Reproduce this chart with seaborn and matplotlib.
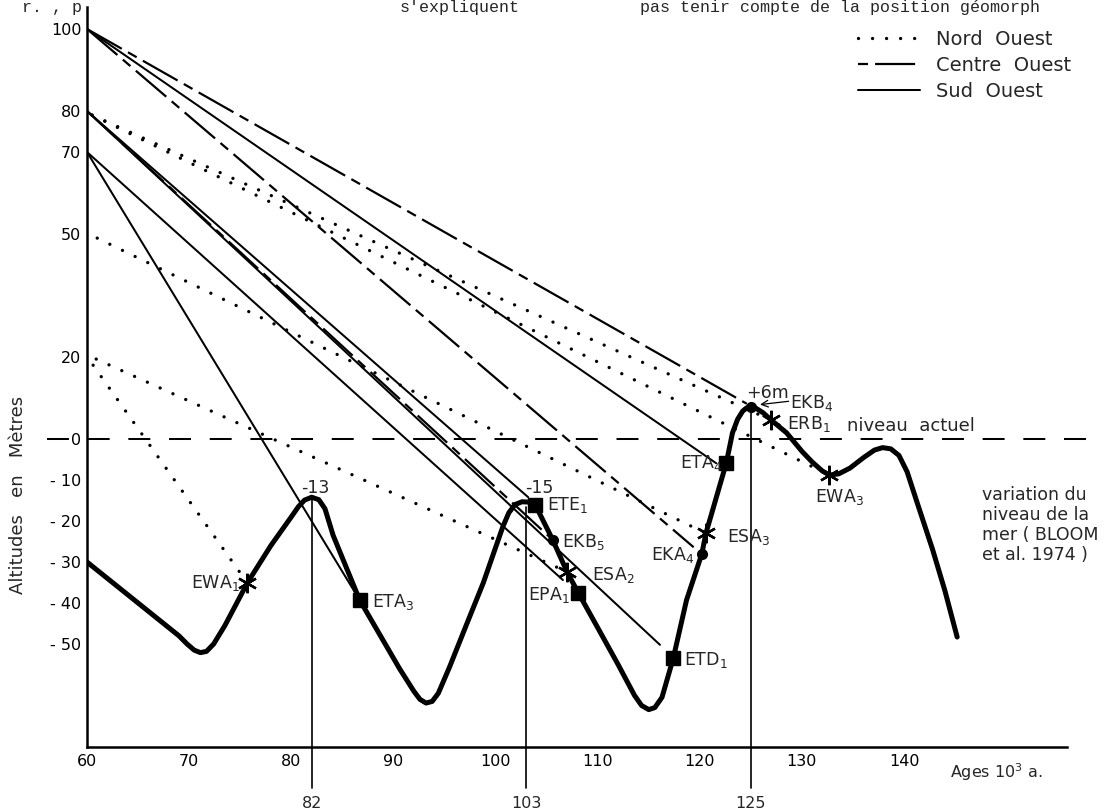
import matplotlib
matplotlib.use("Agg")
import matplotlib.pyplot as plt
from matplotlib.lines import Line2D
import seaborn as sns
import pandas as pd

# sea level curve (BLOOM et al. 1974): age in 10^3 a, altitude in m
curve_age = [60, 65, 69, 69.8, 70.5, 71.1, 71.7, 72.4, 73.5, 75.7, 78, 80, 80.7, 81.3,
             82.0, 82.7, 83.3, 84.1, 86.7, 88.5, 90.6, 92.0, 92.6, 93.2, 93.8, 94.4,
             95.5, 97.2, 98.8, 100.7, 101.3, 101.9, 102.6, 103.3, 103.9, 105.6, 107.0,
             108.1, 110, 112, 113.6, 114.3, 115.0, 115.6, 116.3, 117.4, 118.7, 120.2,
             120.6, 122.6, 123.2, 123.7, 124.2, 124.6, 125.0, 125.5, 126.2, 127.0,
             128.5, 130.0, 131.0, 132.0, 132.7, 133.6, 134.7, 136.0, 137.1, 137.9,
             138.7, 139.5, 140.3, 141.2, 142.8, 144.0, 145.2]
curve_alt = [-30, -40, -48, -50, -51.5, -52.1, -51.8, -50, -45.5, -35.1, -26, -19, -16.5, -14.9,
             -14.2, -14.8, -17.0, -23.5, -39.3, -47, -56, -61.5, -63.5, -64.4, -64.0, -62,
             -55.6, -45, -35.1, -21.5, -18.0, -16.0, -15.3, -15.4, -16.1, -24.6, -32.4,
             -37.5, -46, -55, -62.5, -65.0, -66.0, -65.5, -63.0, -53.5, -39.3, -28,
             -23, -5.8, 1.5, 4.8, 6.8, 7.6, 7.8, 7.5, 6.4, 4.6,
             1.5, -3.0, -5.6, -7.8, -8.8, -8.5, -7.1, -4.6, -2.7, -2.1,
             -2.4, -4.0, -8.0, -14.9, -27, -37, -48.3]

# sampled terraces on the curve
marker_names = ["EWA$_1$", "ETA$_3$", "ETE$_1$", "EKB$_5$", "ESA$_2$", "EPA$_1$", "ETD$_1$",
                "EKA$_4$", "ESA$_3$", "ETA$_4$", "EKB$_4$", "ERB$_1$", "EWA$_3$"]
marker_age = [75.7, 86.7, 103.9, 105.6, 107.0, 108.1, 117.4, 120.2, 120.6, 122.6, 125.0, 127.0, 132.7]
marker_alt = [-35.1, -39.3, -16.1, -24.6, -32.4, -37.5, -53.5, -28.0, -23.0, -5.8, 7.8, 4.6, -8.8]
marker_kind = ["star", "square", "square", "dot", "star", "square", "square",
               "dot", "star", "square", "dot", "star", "star"]

# label placement for each terrace (age, altitude, alignment)
label_age = [75.0, 87.9, 105.0, 106.5, 109.4, 107.3, 118.5, 119.5, 122.7, 122.2, 128.8, 128.5, 133.7]
label_alt = [-35.1, -39.8, -16.1, -25.1, -33.2, -38.0, -53.9, -28.3, -23.9, -5.9, 8.8, 3.7, -14.1]
label_ha = ["right", "left", "left", "left", "left", "right", "left",
            "right", "left", "right", "left", "left", "center"]

# uplift lines: from present altitude (60 ka axis) to terrace
line_start_age = [60, 60, 60, 60, 60, 60, 60, 60, 60.5, 60.5, 61.0, 60.6, 60.9]
line_start_alt = [100, 100, 80, 100, 80, 80, 70, 70, 79, 79, 49, 18.0, 19.5]
line_end_age = [124.6, 119.4, 105.6, 121.6, 103.2, 116.1, 86.7, 106.6, 127.0, 132.7, 120.6, 75.7, 107.0]
line_end_alt = [8.6, -26.4, -24.6, -5.9, -14.2, -50.2, -39.3, -34.4, 4.6, -8.8, -23.0, -35.1, -32.4]
line_region = ["Centre Ouest", "Centre Ouest", "Centre Ouest",
               "Sud Ouest", "Sud Ouest", "Sud Ouest", "Sud Ouest", "Sud Ouest",
               "Nord Ouest", "Nord Ouest", "Nord Ouest", "Nord Ouest", "Nord Ouest"]

region_names = ["Nord  Ouest", "Centre  Ouest", "Sud  Ouest"]
alt_ticks = [100, 80, 70, 50, 20, 0, -10, -20, -30, -40, -50]
age_ticks = [60, 70, 80, 90, 100, 110, 120, 130, 140]
key_ages = [82, 103, 125]
key_top_alt = [-14.5, -16.5, 7.0]
peak_labels = ["-13", "-15", "+6m"]
peak_label_age = [82.4, 104.3, 124.5]
peak_label_alt = [-12.0, -12.0, 11.2]

sns.set_theme(style="white")
plt.rcParams["font.family"] = ["DejaVu Sans"]
plt.rcParams["mathtext.fontset"] = "dejavusans"

styles = {
    "Nord Ouest": dict(linestyle=(0, (0.01, 4.2)), linewidth=2.4, dash_capstyle="round"),
    "Centre Ouest": dict(linestyle=(0, (18, 3.2, 4.5, 3.2)), linewidth=1.6),
    "Sud Ouest": dict(linestyle="-", linewidth=1.45),
}

fig = plt.figure(figsize=(11.16, 8.10), dpi=100)
ax = fig.add_axes([87 / 1116, 1 - 747 / 810, (1093 - 87) / 1116, (747 - 7) / 810])
ax.set_xlim(60, 158.5)
ax.set_ylim(-75.12, 105.37)

# present sea level
ax.plot([56.1, 158.2], [0, 0], color="black", lw=1.45, ls=(0, (10.9, 9.3)), clip_on=False)

for x0, y0, x1, y1, reg in zip(line_start_age, line_start_alt, line_end_age, line_end_alt, line_region):
    ax.plot([x0, x1], [y0, y1], color="black", **styles[reg])

for xa, ya in zip(key_ages, key_top_alt):
    ax.plot([xa, xa], [ya, -85.1], color="black", lw=1.2, clip_on=False)
    ax.text(xa, -88.8, str(xa), ha="center", va="center", fontsize=11.5, clip_on=False)

curve = pd.DataFrame({"age": curve_age, "alt": curve_alt})
sns.lineplot(data=curve, x="age", y="alt", sort=False, estimator=None, color="black",
             lw=3.6, ax=ax, solid_joinstyle="round", solid_capstyle="round")

kind_style = {"star": dict(marker=(6, 2, 0), ms=14, mew=1.7),
              "square": dict(marker="s", ms=10),
              "dot": dict(marker="o", ms=7)}
for kind, st in kind_style.items():
    xs = [a for a, k in zip(marker_age, marker_kind) if k == kind]
    ys = [b for b, k in zip(marker_alt, marker_kind) if k == kind]
    ax.plot(xs, ys, ls="none", color="black", mfc="black", mec="black", zorder=5, **st)

for name, xa, ya, ha in zip(marker_names, label_age, label_alt, label_ha):
    ax.text(xa, ya, name, ha=ha, va="center", fontsize=12.5, zorder=6)
for lab, xa, ya in zip(peak_labels, peak_label_age, peak_label_alt):
    ax.text(xa, ya, lab, ha="center" if lab != "+6m" else "left", va="center", fontsize=12.5)
ax.annotate("", xy=(125.9, 8.4), xytext=(128.7, 9.2),
            arrowprops=dict(arrowstyle="->", lw=0.9, color="black", shrinkA=0, shrinkB=0))

ax.text(134.4, 3.2, "niveau  actuel", ha="left", va="center", fontsize=13)
ax.text(147.6, -11.5, "variation du\nniveau de la\nmer ( BLOOM\net al. 1974 )",
        ha="left", va="top", fontsize=12.5, linespacing=1.15)
ax.text(144.5, -81.3, "Ages 10$^3$ a.", ha="left", va="center", fontsize=11.5, clip_on=False)

ax.set_yticks(alt_ticks)
ax.set_yticklabels([str(v) if v >= 0 else "- " + str(-v) for v in alt_ticks])
ax.set_xticks(age_ticks)
ax.set_xticklabels([str(v) for v in age_ticks])
ax.tick_params(axis="y", direction="in", length=14.4, width=1.6, pad=4, labelsize=11.5, colors="black")
ax.tick_params(axis="x", direction="in", length=14.4, width=1.4, pad=5, labelsize=11.5, colors="black")
for side in ["top", "right"]:
    ax.spines[side].set_visible(False)
for side in ["left", "bottom"]:
    ax.spines[side].set_color("black")
    ax.spines[side].set_linewidth(1.8)
ax.spines["bottom"].set_bounds(60, 156)
ax.set_xlabel("")
ax.set_ylabel("")

fig.text(18 / 1116, 1 - 495 / 810, "Altitudes   en   Mètres", rotation=90,
         ha="center", va="center", fontsize=13)

handles = [Line2D([], [], color="black", **styles["Nord Ouest"]),
           Line2D([], [], color="black", linestyle=(21.2, (18, 3.2, 4.5, 3.2)), linewidth=1.6),
           Line2D([], [], color="black", **styles["Sud Ouest"])]
fig.legend(handles, region_names, loc="upper left",
           bbox_to_anchor=(858 / 1116, 1 - 30 / 810), frameon=False, fontsize=14,
           handlelength=3.2, handletextpad=0.8, labelspacing=0.35, borderpad=0, borderaxespad=0)

# page text cut by the scan, kept just inside the top edge
fig.text(640 / 1116, 1 - 12 / 810, "pas tenir compte de la position géomorph",
         family="Liberation Mono", fontsize=12, va="baseline", ha="left")
fig.text(400 / 1116, 1 - 12 / 810, "s'expliquent", family="Liberation Mono",
         fontsize=12, va="baseline", ha="left")
fig.text(22 / 1116, 1 - 12 / 810, "r. , p", family="Liberation Mono",
         fontsize=12, va="baseline", ha="left")

fig.savefig("out.png", dpi=100, facecolor="white")
